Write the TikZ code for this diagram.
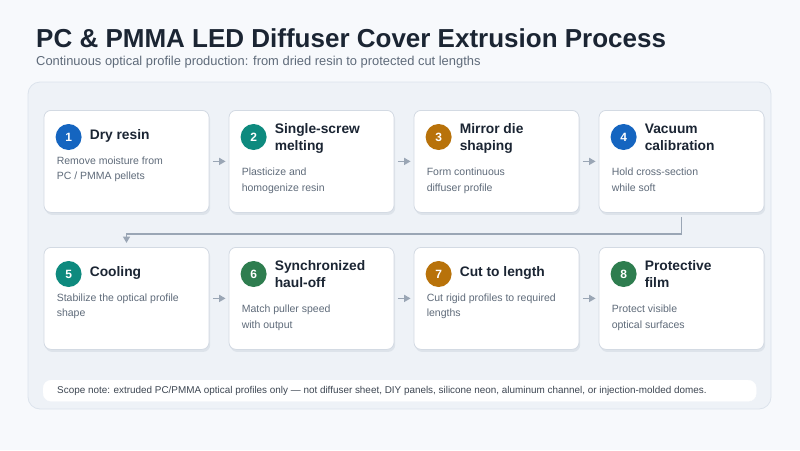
\documentclass[tikz,border=0pt]{standalone}
\usepackage{fontspec}
\setmainfont{Liberation Sans}
\usetikzlibrary{arrows.meta,calc,shadows}
\definecolor{bg}{HTML}{F7F9FC}
\definecolor{panel}{HTML}{EEF2F7}
\definecolor{panelborder}{HTML}{DCE3EC}
\definecolor{cardborder}{HTML}{D3DAE3}
\definecolor{cardshadow}{HTML}{DDE3EA}
\definecolor{ink}{HTML}{1B2533}
\definecolor{muted}{HTML}{5F6B7A}
\definecolor{arrowc}{HTML}{9AA6B5}
\definecolor{cblue}{HTML}{1565C0}
\definecolor{cteal}{HTML}{0E8A7E}
\definecolor{camber}{HTML}{B8720A}
\definecolor{cgreen}{HTML}{2E7D4F}
\tikzset{
  card/.style={draw=cardborder, fill=white, rounded corners=7pt, line width=0.8pt,
    minimum width=165pt, minimum height=102pt, inner sep=0pt, anchor=north,
    drop shadow={shadow xshift=1.2pt, shadow yshift=-2.5pt, fill=cardshadow, opacity=1}},
  badge/.style={circle, fill=#1, minimum size=26pt, inner sep=0pt, text=white,
    font=\fontsize{12}{14}\selectfont\bfseries},
  steptitle/.style={anchor=base west, inner sep=0pt, text=ink,
    font=\fontsize{13.8}{16}\selectfont\bfseries},
  stepdesc/.style={anchor=base west, inner sep=0pt, text=muted,
    font=\fontsize{10.5}{12}\selectfont},
  flow/.style={draw=arrowc, line width=1.5pt, -{Triangle[length=6.5pt,width=7pt]}},
}
\newcommand\procstep[9]{%
  \node[card] (#1) at (#2,#3) {};
  \node[badge=#4] (#1n) at ($(#1.north west)+(25,27)$) {#5};
  \ifx\relax#7\relax
    \node[steptitle] (#1t) at ($(#1.north west)+(46,29.3)$) {#6};
    \node[stepdesc] (#1d) at ($(#1.north west)+(13,54.5)$) {#8};
    \node[stepdesc] (#1e) at ($(#1.north west)+(13,69.5)$) {#9};
  \else
    \node[steptitle] (#1t) at ($(#1.north west)+(46,23)$) {#6};
    \node[steptitle] (#1u) at ($(#1.north west)+(46,40.5)$) {#7};
    \node[stepdesc] (#1d) at ($(#1.north west)+(13,65.5)$) {#8};
    \node[stepdesc] (#1e) at ($(#1.north west)+(13,81)$) {#9};
  \fi
}
\begin{document}
\begin{tikzpicture}[x=1pt,y=-1pt]
\useasboundingbox (0,0) rectangle (800,450);
\fill[bg] (0,0) rectangle (800,450);
\node[anchor=base west, inner sep=0pt, text=ink, font=\fontsize{26}{30}\selectfont\bfseries] (title) at (36,47) {PC \& PMMA LED Diffuser Cover Extrusion Process};
\node[anchor=base west, inner sep=0pt, text=muted, font=\fontsize{12.9}{15}\selectfont] (subtitle) at (36,65.5) {Continuous optical profile production: from dried resin to protected cut lengths};
\draw[draw=panelborder, fill=panel, rounded corners=12pt, line width=0.8pt] (28,82) rectangle (771,409);

\procstep{c1}{126.5}{110}{cblue}{1}{Dry resin}{}{Remove moisture from}{PC / PMMA pellets}
\procstep{c2}{311.5}{110}{cteal}{2}{Single-screw}{melting}{Plasticize and}{homogenize resin}
\procstep{c3}{496.5}{110}{camber}{3}{Mirror die}{shaping}{Form continuous}{diffuser profile}
\procstep{c4}{681.5}{110}{cblue}{4}{Vacuum}{calibration}{Hold cross-section}{while soft}
\procstep{c5}{126.5}{247}{cteal}{5}{Cooling}{}{Stabilize the optical profile}{shape}
\procstep{c6}{311.5}{247}{cgreen}{6}{Synchronized}{haul-off}{Match puller speed}{with output}
\procstep{c7}{496.5}{247}{camber}{7}{Cut to length}{}{Cut rigid profiles to required}{lengths}
\procstep{c8}{681.5}{247}{cgreen}{8}{Protective}{film}{Protect visible}{optical surfaces}

\draw[flow] ($(c1.east)+(3.5,0)$) -- ($(c2.west)+(-3,0)$);
\draw[flow] ($(c2.east)+(3.5,0)$) -- ($(c3.west)+(-3,0)$);
\draw[flow] ($(c3.east)+(3.5,0)$) -- ($(c4.west)+(-3,0)$);
\draw[flow] ($(c5.east)+(3.5,0)$) -- ($(c6.west)+(-3,0)$);
\draw[flow] ($(c6.east)+(3.5,0)$) -- ($(c7.west)+(-3,0)$);
\draw[flow] ($(c7.east)+(3.5,0)$) -- ($(c8.west)+(-3,0)$);
\draw[flow, shorten >=4pt, shorten <=4pt] (c4.south) -- ++(0,21) -| (c5.north);

\node[draw=white, fill=white, rounded corners=8pt, minimum width=713pt, minimum height=21pt, inner sep=0pt, anchor=north west] (note) at (43,380) {};
\node[anchor=base west, inner sep=0pt, text=ink!85, font=\fontsize{9.9}{11}\selectfont] (notetext) at (57,393.8) {Scope note: extruded PC/PMMA optical profiles only — not diffuser sheet, DIY panels, silicone neon, aluminum channel, or injection-molded domes.};
\end{tikzpicture}
\end{document}
